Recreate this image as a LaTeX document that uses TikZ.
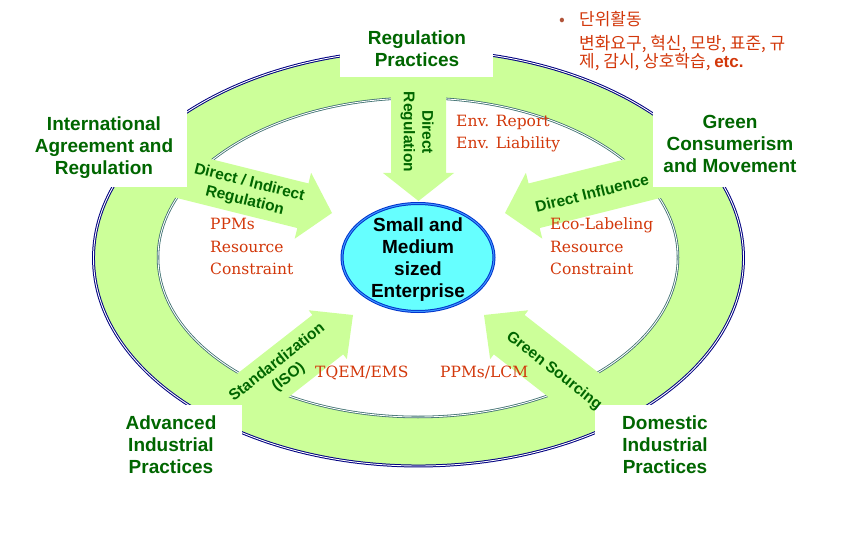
\documentclass[tikz,border=0pt]{standalone}
\usepackage{fontspec}
\setmainfont{Liberation Sans}
\newfontfamily\redserif{DejaVu Serif}
\newfontfamily\kofont{Noto Sans CJK KR}
\definecolor{ringgreen}{RGB}{204,255,153}
\definecolor{labelgreen}{RGB}{0,102,0}
\definecolor{redtext}{RGB}{210,55,10}
\definecolor{navyline}{RGB}{0,0,128}
\definecolor{tealline}{RGB}{60,110,110}
\definecolor{smecyan}{RGB}{102,255,255}
\definecolor{smeblue}{RGB}{0,51,204}
\definecolor{smelight}{RGB}{60,150,255}
% tip, angle, xscale, length, half shaft width, half head width, head length
\newcommand{\BlockArrow}[7]{%
  \fill[ringgreen, shift={(#1)}, rotate=#2, xscale=#3]
    (-#4,#5) -- (-#7,#5) -- (-#7,#6) -- (0,0) -- (-#7,-#6) -- (-#7,-#5) -- (-#4,-#5) -- cycle;}
\begin{document}
\begin{tikzpicture}[x=1pt,y=-1pt,
  biglabel/.style={font=\fontsize{19}{22}\selectfont\bfseries, text=labelgreen, align=center, inner sep=0pt},
  smelabel/.style={font=\fontsize{19}{22}\selectfont\bfseries, text=black, align=center, inner sep=0pt},
  arrowlabel/.style={font=\fontsize{15.5}{18.5}\selectfont\bfseries, text=labelgreen, align=center, inner sep=0pt},
  redlabel/.style={font=\redserif\fontsize{15.5}{22.5}\selectfont, text=redtext, align=left, inner sep=0pt},
  kolabel/.style={font=\kofont\fontsize{17}{18.5}\selectfont, text=redtext, align=left, inner sep=0pt},
  outerline/.style={draw=navyline, line width=1pt, double=white, double distance=0.9pt},
  innerline/.style={draw=tealline, line width=0.8pt, double=white, double distance=0.9pt},
]
\useasboundingbox (0,0) rectangle (867,537);
% ring
\fill[ringgreen, even odd rule]
  (418.5,258) ellipse [x radius=325pt, y radius=208pt]
  (418,257.5) ellipse [x radius=260pt, y radius=159.5pt];
\draw[outerline] (418.5,258) ellipse [x radius=325pt, y radius=208pt];
\draw[innerline] (418,257.5) ellipse [x radius=260pt, y radius=159.5pt];
% block arrows
\BlockArrow{418.5,201}{-90}{1}{140}{27.5}{35.5}{28}
\BlockArrow{332,213}{-14}{1}{175}{23}{34}{30}
\BlockArrow{505,213}{14}{-1}{175}{23}{34}{30}
\BlockArrow{353,315}{38}{1}{150}{25}{31}{32}
\BlockArrow{484,315}{-38}{-1}{150}{25}{31}{32}
% white label backgrounds
\fill[white] (340,0) rectangle (493,77);
\fill[white] (10,108) rectangle (187,187);
\fill[white] (653,108) rectangle (860,187);
\fill[white] (60,405) rectangle (242,500);
\fill[white] (595,405) rectangle (800,500);
% central enterprise
\draw[draw=smeblue, line width=1pt, double=smelight, double distance=1pt, fill=smecyan]
  (418,257.5) ellipse [x radius=76pt, y radius=54pt];
\node[smelabel] (sme) at (418,260) {Small and\\Medium\\sized\\Enterprise};
% big labels
\node[biglabel] (regprac) at (417,48.5) {Regulation\\Practices};
\node[biglabel] (intl) at (104,148) {International\\Agreement and\\Regulation};
\node[biglabel] (green) at (730,143.5) {Green\\Consumerism\\and Movement};
\node[biglabel] (adv) at (171,444.3) {Advanced\\Industrial\\Practices};
\node[biglabel] (dom) at (665,444.3) {Domestic\\Industrial\\Practices};
% arrow labels
\node[arrowlabel, rotate=-90] (lab1) at (417,132) {Direct\\Regulation};
\node[arrowlabel, rotate=-14] (lab2) at (247,192) {Direct / Indirect\\Regulation};
\node[arrowlabel, rotate=14] (lab3) at (592,193) {Direct Influence};
\node[arrowlabel, rotate=38] (lab4) at (283,370) {Standardization\\(ISO)};
\node[arrowlabel, rotate=-38] (lab5) at (554,371) {Green Sourcing};
% red texts (base anchor = last line's baseline)
\node[redlabel, font=\redserif\fontsize{15.5}{21.6}\selectfont, anchor=base west] (env) at (456,148.3) {Env. Report\\Env. Liability};
\node[redlabel, anchor=base west] (ppm1) at (210,275) {PPMs\\Resource\\Constraint};
\node[redlabel, anchor=base west] (eco) at (550,275) {Eco-Labeling\\Resource\\Constraint};
\node[redlabel, anchor=base west] (tqem) at (315,377.3) {TQEM/EMS};
\node[redlabel, anchor=base west] (ppm2) at (440,377.3) {PPMs/LCM};
% korean note
\node[kolabel, text=redtext!60!gray, anchor=base west] (bullet) at (559,26) {•};
\node[kolabel, anchor=base west] (units) at (579,68) {단위활동\\[5pt]변화요구, 혁신, 모방, 표준, 규\\제, 감시, 상호학습, {\normalfont\bfseries etc.}};
\end{tikzpicture}
\end{document}
